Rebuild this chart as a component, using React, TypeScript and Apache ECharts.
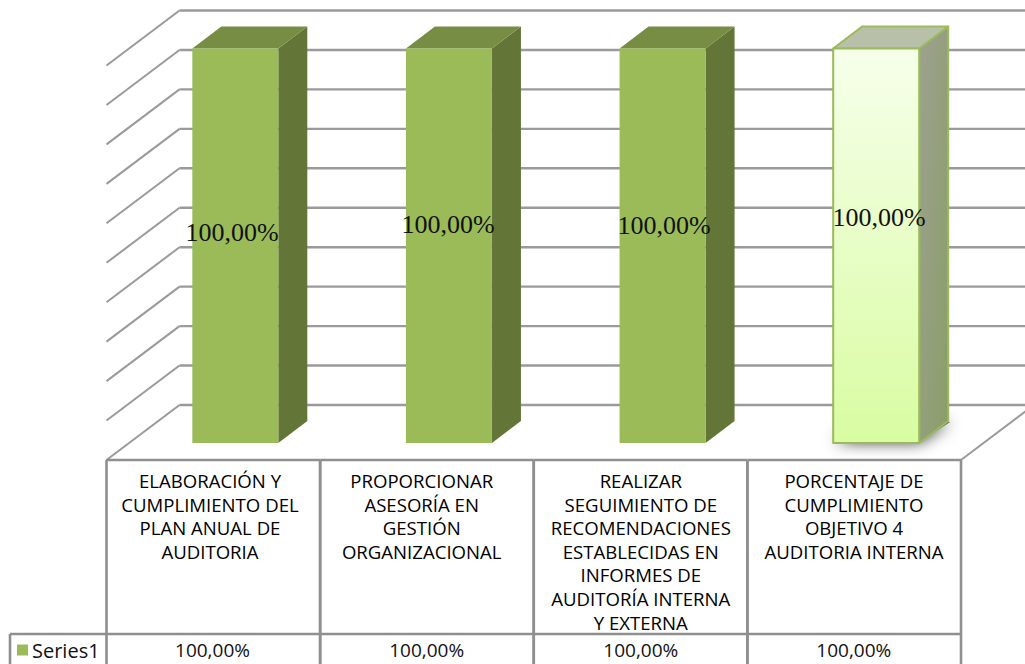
import React, { useEffect, useRef } from "react";
import * as echarts from "echarts";

const categoryLines = [
  ["ELABORACIÓN Y", "CUMPLIMIENTO DEL", "PLAN ANUAL DE", "AUDITORIA"],
  ["PROPORCIONAR", "ASESORÍA EN", "GESTIÓN", "ORGANIZACIONAL"],
  ["REALIZAR", "SEGUIMIENTO DE", "RECOMENDACIONES", "ESTABLECIDAS EN", "INFORMES DE", "AUDITORÍA INTERNA", "Y EXTERNA"],
  ["PORCENTAJE DE", "CUMPLIMIENTO", "OBJETIVO 4", "AUDITORIA INTERNA"],
];
const categories = categoryLines.map((l) => l.join(" "));
const seriesName = "Series1";
const values = [100, 100, 100, 100];
const valueLabels = ["100,00%", "100,00%", "100,00%", "100,00%"];
const axisTicks = [0, 10, 20, 30, 40, 50, 60, 70, 80, 90, 100];

// view settings
const GRID = { left: 106.5, right: 64, top: 65.5, bottom: 204 };
const WALL = { dx: 73, dy: -55 };
const BAR = { width: 86, dx: 29, dy: -22, offX: 22, offY: -17 };
const labelPos = [[232, 232], [448, 224], [664, 225], [879, 217]];
const catCenter = [210, 421.7, 640.8, 854];
const valCenter = [212.5, 426.7, 640.8, 853.8];
const LINE = "#8f8f8f";
const FONT = "Open Sans";
const TABLE_BOTTOM = 664;
const ROW_Y = 634;

const lineEl = (x1: number, y1: number, x2: number, y2: number, w = 2, color = LINE) => ({
  type: "line",
  shape: { x1, y1, x2, y2 },
  style: { stroke: color, lineWidth: w, fill: null },
});
const poly = (points: number[][], style: any, extra: any = {}) => ({
  type: "polygon",
  shape: { points },
  style,
  ...extra,
});
const grad = (x1: number, y1: number, x2: number, y2: number, a: string, b: string) =>
  new echarts.graphic.LinearGradient(x1, y1, x2, y2, [
    { offset: 0, color: a },
    { offset: 1, color: b },
  ]);

export default function App() {
  const ref = useRef<HTMLDivElement>(null);
  useEffect(() => {
    document.body.style.margin = "0";
    const chart = echarts.init(ref.current!, null, { renderer: "svg" });
    chart.setOption({
      animation: false,
      backgroundColor: "#ffffff",
      grid: GRID,
      xAxis: {
        type: "category",
        data: categories,
        axisLine: { show: false },
        axisTick: { show: false },
        axisLabel: { show: false },
      },
      yAxis: { type: "value", min: 0, max: 100, interval: 10, show: false },
      legend: {
        data: [seriesName],
        left: 17,
        top: 640,
        padding: 0,
        icon: "rect",
        itemWidth: 11,
        itemHeight: 11,
        itemGap: 0,
        textStyle: { fontFamily: FONT, fontSize: 20, color: "#111111", padding: [0, 0, 0, -1] },
        selectedMode: false,
      },
      series: [
        {
          type: "custom",
          name: "walls",
          data: axisTicks.map((t) => [0, t]),
          clip: false,
          silent: true,
          renderItem: (_: any, api: any) => {
            const [x0, y] = api.coord([0, api.value(1)]);
            const left = x0 - api.size([1, 0])[0] / 2;
            const bx = left + WALL.dx;
            const by = y + WALL.dy;
            const children: any[] = [
              lineEl(left, y, bx, by, 2, "#9a9a9a"),
              lineEl(bx, by, 1030, by, 2.4, "#9a9a9a"),
            ];
            if (api.value(1) === 0) {
              const right = left + api.size([1, 0])[0] * categories.length;
              children.push(lineEl(right, y, right + WALL.dx, by, 2, "#9a9a9a"));
            }
            return { type: "group", children };
          },
        },
        {
          type: "custom",
          name: "table",
          data: categories.map((_, i) => [i, 0]),
          clip: false,
          silent: true,
          renderItem: (_: any, api: any) => {
            const i = api.value(0);
            const [cx, y0] = api.coord([i, 0]);
            const w = api.size([1, 0])[0];
            const l = cx - w / 2;
            const r = cx + w / 2;
            const children: any[] = [
              lineEl(l, y0, r, y0, 2.6),
              lineEl(l, ROW_Y, r, ROW_Y, 2.6),
              lineEl(l, y0, l, TABLE_BOTTOM, 2.6),
              lineEl(r, y0, r, TABLE_BOTTOM, 2.6),
            ];
            if (i === 0) {
              children.push(lineEl(10, ROW_Y, l, ROW_Y, 2.6), lineEl(10, ROW_Y, 10, TABLE_BOTTOM, 2.6));
            }
            categoryLines[i].forEach((t, k) => {
              children.push({
                type: "text",
                style: {
                  x: catCenter[i],
                  y: y0 + 20.5 + k * 23.6,
                  text: t,
                  fill: "#000000",
                  font: `18.6px "${FONT}"`,
                  align: "center",
                  verticalAlign: "middle",
                },
              });
            });
            children.push({
              type: "text",
              style: {
                x: valCenter[i],
                y: 650,
                text: valueLabels[i],
                fill: "#111111",
                font: `19px "${FONT}"`,
                align: "center",
                verticalAlign: "middle",
              },
            });
            return { type: "group", children };
          },
        },
        {
          type: "custom",
          name: seriesName,
          data: values.map((v, i) => [i, v]),
          clip: false,
          itemStyle: { color: "#9bbb59" },
          renderItem: (_: any, api: any) => {
            const i = api.value(0);
            const v = api.value(1);
            const [cx, y0] = api.coord([i, 0]);
            const h = api.size([0, v])[1];
            const l = cx + BAR.offX - BAR.width / 2;
            const r = l + BAR.width;
            const b = y0 + BAR.offY;
            const t = b - h;
            const d = { x: BAR.dx, y: BAR.dy };
            const top = [[l, t], [r, t], [r + d.x, t + d.y], [l + d.x, t + d.y]];
            const side = [[r, t], [r + d.x, t + d.y], [r + d.x, b + d.y], [r, b]];
            const front = [[l, t], [r, t], [r, b], [l, b]];
            const highlighted = i === categories.length - 1;
            const children: any[] = [];
            if (highlighted) {
              children.push(
                poly(
                  [[l + 2, b - 1], [r, b - 1], [r + d.x + 2, b + d.y + 1], [l + d.x, b + d.y + 1]],
                  { fill: "#555555", opacity: 0.9, shadowBlur: 16, shadowColor: "rgba(0,0,0,0.9)" }
                )
              );
              const stroke = { stroke: "#9bbb59", lineWidth: 2, lineJoin: "round" };
              children.push(
                poly(side, { fill: grad(0, 0, 1, 1, "#9da190", "#8a9e68"), ...stroke }),
                poly(top, { fill: "#b9c0aa", ...stroke }),
                poly(front, { fill: grad(0, 0, 0, 1, "#f6ffea", "#d9fca2"), ...stroke })
              );
            } else {
              children.push(
                poly(side, { fill: "#637537" }),
                poly(top, { fill: "#778d44" }),
                poly(front, { fill: "#9bbb59" })
              );
            }
            children.push({
              type: "text",
              z2: 10,
              style: {
                x: labelPos[i][0],
                y: labelPos[i][1],
                text: valueLabels[i],
                fill: "#111111",
                font: '26px "Liberation Serif"',
                align: "center",
                verticalAlign: "middle",
              },
            });
            return { type: "group", children };
          },
        },
      ],
    });
    return () => chart.dispose();
  }, []);
  return <div ref={ref} style={{ width: 1025, height: 664 }} />;
}
